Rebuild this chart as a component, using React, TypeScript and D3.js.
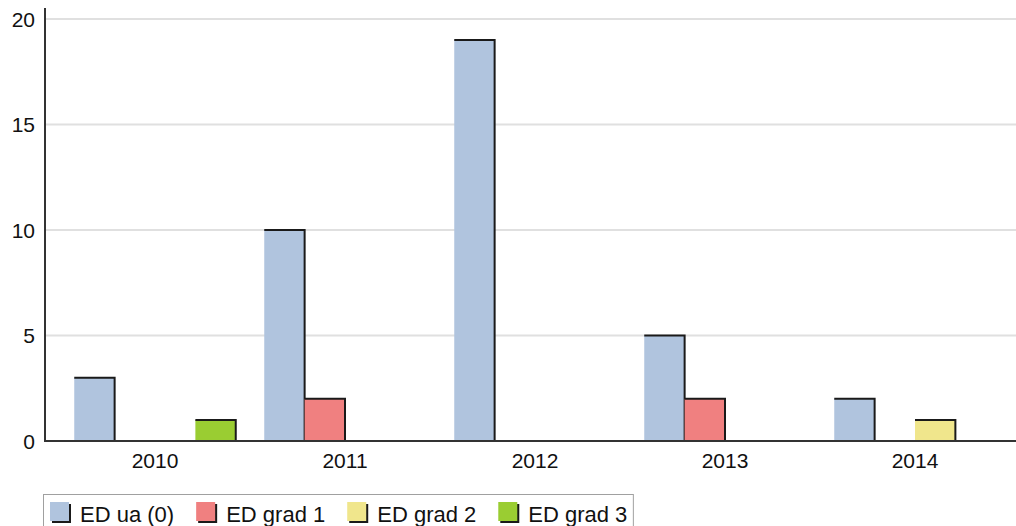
import React, { useEffect, useRef } from 'react';
import * as d3 from 'd3';

const years = ['2010', '2011', '2012', '2013', '2014'];
const seriesNames = ['ED ua (0)', 'ED grad 1', 'ED grad 2', 'ED grad 3'];
const seriesColors = ['#B0C4DE', '#F08080', '#F0E68C', '#9ACD32'];
const edUa = [3, 10, 19, 5, 2];
const edGrad1 = [0, 2, 0, 2, 0];
const edGrad2 = [0, 0, 0, 0, 1];
const edGrad3 = [1, 0, 0, 0, 0];
const yTicks = [0, 5, 10, 15, 20];

const seriesValues = [edUa, edGrad1, edGrad2, edGrad3];

const W = 1016;
const H = 526;
const FONT = '"Liberation Sans", Arial, sans-serif';

const App: React.FC = () => {
  const svgRef = useRef<SVGSVGElement>(null);

  useEffect(() => {
    if (!svgRef.current) return;
    const svg = d3.select(svgRef.current);
    svg.selectAll('*').remove();

    const plot = { left: 45, right: 1016, top: 8, bottom: 441 };

    const x = d3.scaleBand<string>()
      .domain(years)
      .range([60, 1010]);

    const inner = d3.scaleBand<string>()
      .domain(seriesNames)
      .range([x.bandwidth() * 0.075, x.bandwidth() * 0.925]);

    const y = d3.scaleLinear()
      .domain([0, 20])
      .range([plot.bottom, 19]);

    // gridlines
    svg.append('g')
      .selectAll('line')
      .data(yTicks.filter(t => t > 0))
      .enter().append('line')
      .attr('x1', plot.left + 1)
      .attr('x2', plot.right)
      .attr('y1', d => y(d))
      .attr('y2', d => y(d))
      .attr('stroke', '#e0e0e0')
      .attr('stroke-width', 2);

    // bars, one series after another so later ones cover the shadow line
    seriesNames.forEach((s, k) => {
      const data = years
        .map((yr, i) => ({ yr, v: seriesValues[k][i] }))
        .filter(d => d.v > 0);
      const bars = svg.append('g')
        .selectAll('g')
        .data(data)
        .enter().append('g');
      bars.append('rect')
        .attr('x', d => (x(d.yr) || 0) + (inner(s) || 0))
        .attr('y', d => y(d.v))
        .attr('width', inner.bandwidth())
        .attr('height', d => plot.bottom - y(d.v))
        .attr('fill', seriesColors[k]);
      bars.append('path')
        .attr('d', d => {
          const x0 = (x(d.yr) || 0) + (inner(s) || 0);
          const x1 = x0 + inner.bandwidth();
          return `M${x0},${y(d.v)}H${x1}V${plot.bottom}`;
        })
        .attr('fill', 'none')
        .attr('stroke', '#1a1a1a')
        .attr('stroke-width', 2);
    });

    // axes
    svg.append('line')
      .attr('x1', plot.left).attr('x2', plot.left)
      .attr('y1', plot.top).attr('y2', plot.bottom + 1)
      .attr('stroke', '#333').attr('stroke-width', 2);
    svg.append('line')
      .attr('x1', plot.left).attr('x2', plot.right)
      .attr('y1', plot.bottom).attr('y2', plot.bottom)
      .attr('stroke', '#333').attr('stroke-width', 2);

    // y labels
    svg.append('g')
      .selectAll('text')
      .data(yTicks)
      .enter().append('text')
      .attr('x', 35)
      .attr('y', d => y(d))
      .attr('dy', '0.36em')
      .attr('text-anchor', 'end')
      .attr('font-family', FONT)
      .attr('font-size', 21)
      .attr('fill', '#111')
      .text(d => String(d));

    // x labels
    svg.append('g')
      .selectAll('text')
      .data(years)
      .enter().append('text')
      .attr('x', d => (x(d) || 0) + x.bandwidth() / 2)
      .attr('y', 468)
      .attr('text-anchor', 'middle')
      .attr('font-family', FONT)
      .attr('font-size', 21)
      .attr('fill', '#111')
      .text(d => d);

    // legend
    const legend = svg.append('g');
    const box = legend.append('rect')
      .attr('x', 43.5)
      .attr('y', 494.5)
      .attr('height', 60)
      .attr('fill', 'white')
      .attr('stroke', '#a0a0a0')
      .attr('stroke-width', 1);

    let cx = 50;
    seriesNames.forEach((name, k) => {
      legend.append('rect')
        .attr('x', cx + 2)
        .attr('y', 504)
        .attr('width', 19)
        .attr('height', 19)
        .attr('fill', '#1a1a1a');
      legend.append('rect')
        .attr('x', cx)
        .attr('y', 502)
        .attr('width', 19)
        .attr('height', 19)
        .attr('fill', seriesColors[k]);
      const t = legend.append('text')
        .attr('x', cx + 30)
        .attr('y', 522)
        .attr('font-family', FONT)
        .attr('font-size', 22)
        .attr('fill', '#111')
        .text(name);
      const tw = (t.node() as SVGTextElement).getComputedTextLength();
      cx = cx + 30 + tw + 22;
    });
    box.attr('width', cx - 22 + 6 - 43.5);
  }, []);

  return (
    <svg
      ref={svgRef}
      width={W}
      height={H}
      style={{ position: 'absolute', left: 0, top: 0, background: 'white' }}
    />
  );
};

export default App;
